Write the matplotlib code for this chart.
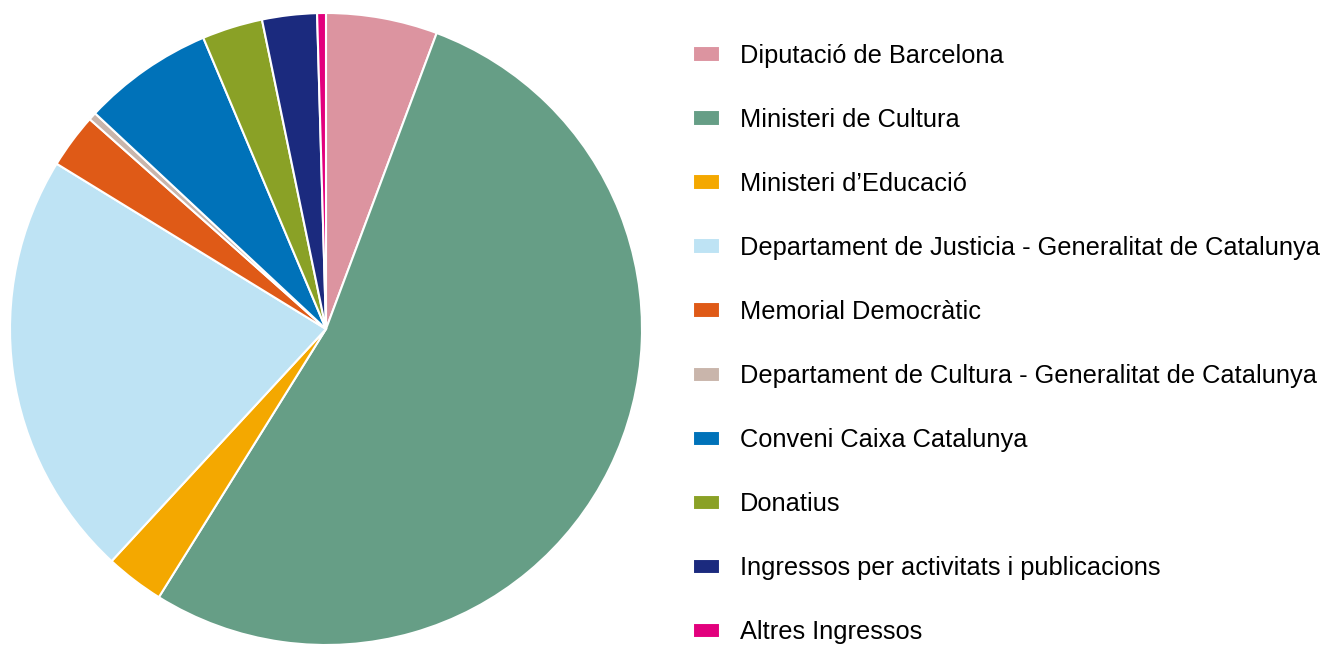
import matplotlib

matplotlib.use("AGG")

import matplotlib.pyplot as plt  # isort:skip

plt.rcParams["font.family"] = ["Liberation Sans", "DejaVu Sans"]

# Income sources, in drawing order (clockwise from 12 o'clock)
labels = [
    "Diputació de Barcelona",
    "Ministeri de Cultura",
    "Ministeri d’Educació",
    "Departament de Justicia - Generalitat de Catalunya",
    "Memorial Democràtic",
    "Departament de Cultura - Generalitat de Catalunya",
    "Conveni Caixa Catalunya",
    "Donatius",
    "Ingressos per activitats i publicacions",
    "Altres Ingressos",
]
shares = [5.7, 53.2, 3.0, 21.9, 2.8, 0.4, 6.7, 3.1, 2.8, 0.45]
colors = [
    "#DC94A0",
    "#669E86",
    "#F4A800",
    "#BEE3F4",
    "#DF5A17",
    "#C9B5AB",
    "#0072B9",
    "#8AA126",
    "#1B2A7E",
    "#E2007D",
]

W, H = 1323, 646
fig = plt.figure(figsize=(W / 100, H / 100), dpi=100)

# pie occupies left part of the figure
ax = fig.add_axes([10 / W, 1 / H, 632 / W, 632 / H])
wedges, _ = ax.pie(
    shares,
    colors=colors,
    startangle=90,
    counterclock=False,
    radius=1.0,
    wedgeprops={"edgecolor": "white", "linewidth": 1.5},
)
ax.set_aspect("equal")
ax.set_xlim(-1.0, 1.0)
ax.set_ylim(-1.0, 1.0)
ax.axis("off")

fs = 18.3
fig.legend(
    wedges,
    labels,
    loc="upper left",
    bbox_to_anchor=(692.5 / W, 1 - 44 / H),
    frameon=False,
    fontsize=fs,
    handlelength=1.1,
    handleheight=0.55,
    handletextpad=0.75,
    labelspacing=1.575,
    borderpad=0,
    borderaxespad=0,
)

plt.savefig("out.png", dpi=100)
plt.close()
